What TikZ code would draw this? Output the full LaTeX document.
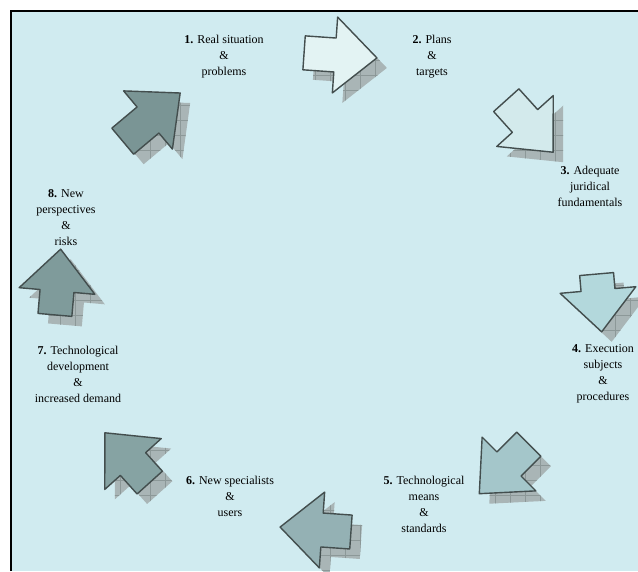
\documentclass[tikz,border=0pt]{standalone}
\usepackage{fontspec}
\setmainfont{Liberation Serif}
\usepackage{tikz}
\definecolor{bgblue}{HTML}{D0EBF0}
\definecolor{edge}{HTML}{434E4E}
\definecolor{shade}{HTML}{A9B5B6}
\definecolor{shadegrid}{HTML}{8C9898}
\definecolor{arrA}{HTML}{7A9595}
\definecolor{arrB}{HTML}{E3F3F3}
\definecolor{arrC}{HTML}{D3EAEC}
\definecolor{arrD}{HTML}{B3D8DC}
\definecolor{arrE}{HTML}{A4C6CA}
\definecolor{arrF}{HTML}{94B1B4}
\definecolor{arrG}{HTML}{86A3A3}
\definecolor{arrH}{HTML}{7F9B9B}

\begin{document}
\begin{tikzpicture}[
  x=1pt,y=-1pt,
  lbl/.style={align=center,font=\fontsize{12}{16}\selectfont,inner sep=0pt},
  blk/.style={draw=edge,line width=1.4pt,line join=round},
  shd/.style={fill=shade},
  gridln/.style={draw=shadegrid,line width=0.5pt}
]
\useasboundingbox (0,0) rectangle (638,571);
\fill[bgblue] (11,11) rectangle (638,571);
\draw[line width=2.5pt] (11,571) -- (11,11) -- (638,11);

% block arrows: x/y/angle/tail/colour
\foreach \cx/\cy/\ang/\tl/\col in {148/120/40/33/arrA, 335/55/-4/31/arrB,
    525/121/-48/28/arrC, 598/290/-85/16/arrD, 509/464/-135/28/arrE,
    322/530/176/29/arrF, 133/464/132/25/arrG, 57/291/85/24/arrH}{
  \begin{scope}
    \clip[shift={(\cx+10,\cy+10)},rotate=\ang]
      (-\tl,-17) -- (0,-17) -- (0,-38) -- (42,0) -- (0,38) -- (0,17) -- (-\tl,17) -- cycle;
    \fill[shd] (\cx-80,\cy+100) rectangle (\cx+100,\cy-80);
    \draw[gridln,step=15pt] (\cx-80,\cy+100) grid (\cx+100,\cy-80);
  \end{scope}
  \draw[blk,fill=\col,shift={(\cx,\cy)},rotate=\ang]
    (-\tl,-17) -- (0,-17) -- (0,-38) -- (42,0) -- (0,38) -- (0,17) -- (-\tl,17) -- cycle;
}

\node[lbl] (l1) at (224,57) {\textbf{1.} Real situation\\\&\\problems};
\node[lbl] (l2) at (432,57) {\textbf{2.} Plans\\\&\\targets};
\node[lbl] (l3) at (590,186) {\textbf{3.} Adequate\\juridical\\fundamentals};
\node[lbl] (l4) at (603,374) {\textbf{4.} Execution\\subjects\\\&\\procedures};
\node[lbl] (l5) at (424,504) {\textbf{5.} Technological\\means\\\&\\standards};
\node[lbl] (l6) at (230,496) {\textbf{6.} New specialists\\\&\\users};
\node[lbl] (l7) at (78,374) {\textbf{7.} Technological\\development\\\&\\increased demand};
\node[lbl] (l8) at (66,218) {\textbf{8.} New\\perspectives\\\&\\risks};
\end{tikzpicture}
\end{document}
